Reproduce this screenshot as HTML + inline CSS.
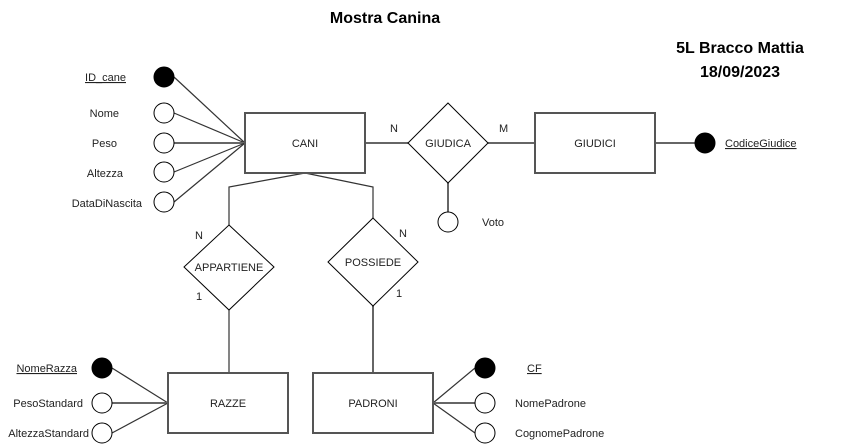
<!DOCTYPE html>
<html><head><meta charset="utf-8"><style>
html,body{margin:0;padding:0;background:#fff;}
svg{display:block;}
text{font-family:"Liberation Sans",Arial,sans-serif;font-size:11px;fill:#222;}
.b{font-weight:bold;font-size:16px;fill:#000;}
</style></head><body>
<svg width="854" height="448" viewBox="0 0 854 448" xmlns="http://www.w3.org/2000/svg">
<g stroke="#333" stroke-width="1.2" fill="none">
<!-- CANI attributes -->
<line x1="174" y1="77" x2="245" y2="143"/>
<line x1="174" y1="113" x2="245" y2="143"/>
<line x1="174" y1="143" x2="245" y2="143" stroke="#666" stroke-width="2"/>
<line x1="174" y1="172" x2="245" y2="143"/>
<line x1="174" y1="202" x2="245" y2="143"/>
<!-- CANI - GIUDICA - GIUDICI -->
<line x1="365" y1="143" x2="408" y2="143" stroke="#666" stroke-width="2"/>
<line x1="488" y1="143" x2="535" y2="143" stroke="#666" stroke-width="2"/>
<line x1="655" y1="143" x2="695" y2="143" stroke="#666" stroke-width="2"/>
<line x1="448" y1="183" x2="448" y2="212" stroke="#666" stroke-width="2"/>
<!-- CANI to relations -->
<polyline points="305,173 229,187 229,225"/>
<polyline points="305,173 373,187 373,218"/>
<line x1="229" y1="310" x2="229" y2="373"/>
<line x1="373" y1="306" x2="373" y2="373" stroke="#666" stroke-width="2"/>
<!-- RAZZE attrs -->
<line x1="112" y1="368" x2="168" y2="403"/>
<line x1="112" y1="403" x2="168" y2="403" stroke="#666" stroke-width="2"/>
<line x1="112" y1="433" x2="168" y2="403"/>
<!-- PADRONI attrs -->
<line x1="475" y1="368" x2="433" y2="403"/>
<line x1="475" y1="403" x2="433" y2="403" stroke="#666" stroke-width="2"/>
<line x1="475" y1="433" x2="433" y2="403"/>
</g>
<g stroke="#555" stroke-width="2" fill="#fff">
<rect x="245" y="113" width="120" height="60"/>
<rect x="535" y="113" width="120" height="60"/>
<rect x="168" y="373" width="120" height="60"/>
<rect x="313" y="373" width="120" height="60"/>
</g>
<g stroke="#000" stroke-width="1" fill="#fff">
<polygon points="448,103 488,143 448,183 408,143"/>
<polygon points="229,225 274,267 229,310 184,267"/>
<polygon points="373,218 418,262 373,306 328,262"/>
<circle cx="164" cy="77" r="10" fill="#000"/>
<circle cx="164" cy="113" r="10"/>
<circle cx="164" cy="143" r="10"/>
<circle cx="164" cy="172" r="10"/>
<circle cx="164" cy="202" r="10"/>
<circle cx="448" cy="222" r="10"/>
<circle cx="705" cy="143" r="10" fill="#000"/>
<circle cx="102" cy="368" r="10" fill="#000"/>
<circle cx="102" cy="403" r="10"/>
<circle cx="102" cy="433" r="10"/>
<circle cx="485" cy="368" r="10" fill="#000"/>
<circle cx="485" cy="403" r="10"/>
<circle cx="485" cy="433" r="10"/>
</g>
<text class="b" x="385" y="23" text-anchor="middle">Mostra Canina</text>
<text class="b" x="740" y="53" text-anchor="middle">5L Bracco Mattia</text>
<text class="b" x="740" y="77" text-anchor="middle">18/09/2023</text>
<g text-anchor="middle">
<text x="305" y="147">CANI</text>
<text x="595" y="147">GIUDICI</text>
<text x="448" y="147">GIUDICA</text>
<text x="229" y="271">APPARTIENE</text>
<text x="373" y="266">POSSIEDE</text>
<text x="228" y="407">RAZZE</text>
<text x="373" y="407">PADRONI</text>
</g>
<g text-anchor="end">
<text x="126" y="81" text-decoration="underline">ID_cane</text>
<text x="119" y="117">Nome</text>
<text x="117" y="147">Peso</text>
<text x="123" y="177">Altezza</text>
<text x="142" y="207">DataDiNascita</text>
<text x="77" y="372" text-decoration="underline">NomeRazza</text>
<text x="83" y="407">PesoStandard</text>
<text x="89" y="437">AltezzaStandard</text>
</g>
<text x="725" y="147" text-decoration="underline">CodiceGiudice</text>
<text x="482" y="226">Voto</text>
<text x="527" y="372" text-decoration="underline">CF</text>
<text x="515" y="407">NomePadrone</text>
<text x="515" y="437">CognomePadrone</text>
<text x="390" y="132">N</text>
<text x="499" y="132">M</text>
<text x="195" y="239">N</text>
<text x="196" y="300">1</text>
<text x="399" y="237">N</text>
<text x="396" y="297">1</text>
</svg>
</body></html>
